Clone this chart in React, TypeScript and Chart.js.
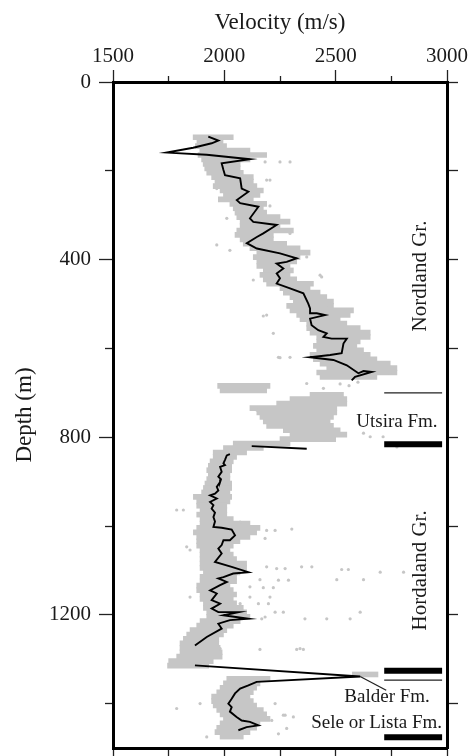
import React, { useEffect, useRef } from 'react';
import { Chart, registerables } from 'chart.js';

Chart.register(...registerables);

// ---------- DATA (velocity in m/s, depth in m) ----------
const velocityTicks = [1500, 2000, 2500, 3000];
const depthTicks = [0, 400, 800, 1200];

// dense grey cloud of measurements: depth bins with left / right velocity edges
const cloudDepths = [
  130, 140, 150, 160, 170, 180, 190, 200, 210, 220, 230, 240, 250, 260, 270, 280, 290, 300,
  310, 320, 330, 340, 350, 360, 370, 380, 390, 400, 410, 420, 430, 440, 450, 460, 470, 480,
  490, 500, 510, 520, 530, 540, 550, 560, 570, 580, 590, 600, 610, 620, 630, 640, 650, 660, 670,
  690, 700, 710, 720, 730, 740, 750, 760, 770, 780, 790, 800, 810, 820, 830, 840,
  850, 860, 870, 880, 890, 900, 910, 920, 930, 940, 950, 960, 970, 980, 990, 1000,
  1010, 1020, 1030, 1040, 1050, 1060, 1070, 1080, 1090, 1100, 1110, 1120, 1130, 1140, 1150,
  1160, 1170, 1180, 1190, 1200, 1210, 1220, 1230, 1240, 1250, 1260, 1270, 1280, 1290, 1300,
  1310, 1320, 1340, 1350, 1360, 1370, 1380, 1390, 1400, 1410, 1420, 1430, 1440, 1450, 1460,
  1470, 1480,
];
const cloudLeft = [
  1860, 1877, 1870, 1890, 1882, 1898, 1905, 1912, 1921, 1943, 1958, 1950, 1981, 1996, 1973, 2025, 2040, 2048,
  2056, 2071, 2071, 2056, 2048, 2071, 2085, 2115, 2146, 2130, 2146, 2146, 2175, 2160, 2175, 2190, 2250, 2265,
  2295, 2310, 2280, 2295, 2325, 2340, 2370, 2370, 2385, 2415, 2415, 2400, 2415, 2385, 2400, 2430, 2460, 2415, 2430,
  1970, 1981, 2385, 2295, 2235, 2115, 2146, 2160, 2175, 2190, 2265, 2295, 2250, 2040, 1996, 1950,
  1950, 1936, 1928, 1921, 1928, 1921, 1913, 1906, 1898, 1861, 1876, 1876, 1891, 1876, 1891, 1891,
  1876, 1861, 1876, 1876, 1876, 1891, 1891, 1891, 1891, 1891, 1906, 1891, 1891, 1876, 1876,
  1891, 1891, 1906, 1906, 1921, 1921, 1891, 1876, 1846, 1831, 1816, 1801, 1801, 1801, 1786,
  1750, 1745, 2575, 2011, 1996, 1981, 1966, 1943, 1943, 1950, 1966, 1981, 1996, 1981, 1966,
  1958, 1981,
];
const cloudRight = [
  2040, 1994, 2010, 2115, 2190, 2115, 2071, 2071, 2085, 2130, 2130, 2146, 2175, 2160, 2130, 2190, 2175, 2190,
  2250, 2295, 2250, 2310, 2220, 2220, 2280, 2340, 2385, 2340, 2325, 2295, 2310, 2295, 2325, 2400, 2385, 2430,
  2460, 2490, 2490, 2580, 2565, 2520, 2550, 2610, 2655, 2655, 2610, 2595, 2625, 2655, 2685, 2745, 2775, 2775, 2685,
  2205, 2190, 2535, 2550, 2550, 2505, 2505, 2490, 2475, 2490, 2520, 2550, 2500, 2295, 2175, 2100,
  2055, 2040, 2033, 2033, 2025, 2025, 2033, 2033, 2025, 2033, 2025, 2011, 2011, 2011, 2040, 2115,
  2160, 2145, 2115, 2070, 2040, 2025, 2040, 2055, 2100, 2100, 2070, 2055, 2055, 2025, 2040,
  2055, 2040, 2055, 2085, 2100, 2115, 2071, 2040, 2011, 1996, 1975, 1975, 1981, 1990, 1990,
  1950, 1930, 2690, 2205, 2160, 2145, 2130, 2115, 2130, 2145, 2175, 2190, 2205, 2160, 2145,
  2115, 2085,
];
// second lobe of the Utsira cloud
const lobeDepths = [700];
const lobeLeft = [2400];
const lobeRight = [2520];

// scattered individual measurements outside the dense cloud [velocity, depth]
const outlierPoints = [
  [2183, 180], [2250, 180], [2295, 180], [2205, 221], [2190, 221], [1966, 240], [2205, 279],
  [2011, 307], [2295, 341], [1966, 367], [2025, 379], [2370, 394], [2430, 435], [2437, 439],
  [2130, 446], [2460, 503], [2190, 525], [2175, 527], [2220, 566], [2243, 620], [2295, 620],
  [2250, 621], [2623, 611], [2745, 656], [2370, 679], [2520, 680], [2560, 684], [2600, 676],
  [2445, 690], [2146, 739], [2625, 791], [2655, 799], [2713, 799], [2775, 822],
  [1786, 964], [1816, 964], [1831, 1047], [1846, 1054], [2071, 991], [2190, 1010], [2228, 1010],
  [2303, 1007], [2183, 1028], [2190, 1092], [2235, 1096], [2273, 1096], [2347, 1092], [2393, 1092],
  [2527, 1098], [2557, 1098], [2700, 1104], [2805, 1104], [2160, 1121], [2243, 1122], [2288, 1122],
  [2505, 1121], [2625, 1121], [2115, 1137], [2175, 1139], [2220, 1139], [2205, 1160], [2153, 1175],
  [2198, 1175], [2071, 1175], [2228, 1194], [2265, 1194], [2362, 1209], [2460, 1209], [2565, 1209],
  [2610, 1194], [2168, 1209], [1846, 1160], [2115, 1160], [2183, 1205], [2160, 1278], [2325, 1278],
  [2355, 1278], [1981, 1276], [2340, 1276], [1786, 1411], [1891, 1400], [2228, 1400], [2265, 1426],
  [2310, 1430], [2243, 1468], [2280, 1456], [1921, 1475], [2213, 1438], [2273, 1426],
];

// smoothed velocity log (black line) [velocity, depth]
const nordlandLine = [
  [1928, 123], [1973, 132], [1943, 138], [1860, 148], [1741, 159], [1921, 164], [2115, 174],
  [1988, 183], [1996, 198], [2003, 210], [2071, 217], [2078, 240], [2108, 247], [2056, 266],
  [2071, 273], [2153, 281], [2115, 307], [2130, 315], [2235, 322], [2175, 341], [2146, 349],
  [2101, 363], [2146, 375], [2250, 386], [2325, 397], [2280, 405], [2235, 409], [2265, 420],
  [2235, 431], [2250, 442], [2235, 454], [2295, 465], [2355, 476], [2377, 499], [2385, 510],
  [2385, 521], [2415, 521], [2452, 525], [2385, 533], [2392, 548], [2422, 559], [2460, 566],
  [2445, 574], [2482, 578], [2550, 578], [2535, 589], [2527, 611], [2475, 615], [2385, 620],
  [2490, 626], [2550, 638], [2602, 656], [2625, 651], [2662, 653], [2587, 664], [2572, 672],
];
const utsiraBaseLine = [[2123, 820], [2370, 826]];
const hordalandLine = [
  [2025, 838], [2011, 841], [2003, 851], [1996, 859], [2003, 863], [1981, 867], [1988, 878],
  [1973, 889], [1985, 895], [1981, 901], [1966, 912], [1973, 920], [1958, 927], [1936, 931],
  [1966, 938], [1936, 946], [1951, 953], [1943, 961], [1958, 970], [1951, 980], [1958, 990],
  [1951, 1002], [1988, 1004], [2033, 1008], [2048, 1021], [2025, 1032], [1996, 1032], [1988, 1043],
  [1973, 1051], [1988, 1062], [1958, 1081], [2033, 1092], [2108, 1104], [2040, 1107], [1996, 1115],
  [1973, 1118], [2011, 1126], [1981, 1133], [1936, 1145], [1966, 1152], [1943, 1167], [1981, 1175],
  [1943, 1186], [1973, 1194], [2063, 1194], [1996, 1201], [2108, 1209], [2025, 1212], [1973, 1220],
  [1988, 1231], [1921, 1250], [1868, 1269],
];
const lowerLine = [
  [1868, 1314], [2610, 1339], [2145, 1351], [2108, 1359], [2071, 1366], [2048, 1377], [2033, 1389],
  [2018, 1400], [2033, 1408], [2025, 1418], [2055, 1430], [2078, 1438], [2115, 1441], [2153, 1449],
  [2100, 1453], [2063, 1460],
];

// formation boundary markers (depths) and their velocity extent
const thinBoundaryDepths = [700, 1347];
const thickBoundaryDepths = [816, 1326, 1476];
const markerVelocities = [2718, 2978];
const balderPointer = [[2610, 1339], [2727, 1370]];

// formation labels: text, velocity, depth
const groupLabels = [
  { text: 'Nordland Gr.', v: 2879, d: 437 },
  { text: 'Hordaland Gr.', v: 2879, d: 1100 },
];
const formationLabels = [
  { text: 'Utsira Fm.', v: 2775, d: 765 },
  { text: 'Balder Fm.', v: 2731, d: 1385 },
  { text: 'Sele or Lista Fm.', v: 2684, d: 1444 },
];

// ---------- STYLE ----------
const FONT = "'Liberation Serif', 'Times New Roman', serif";
const TEXT = '#1a1a1a';
const GREY = '#c6c6c6';

const toXY = (pts: number[][]) => pts.map(([v, d]) => ({ x: v, y: d }));

const labelPlugin = {
  id: 'formationText',
  afterDatasetsDraw(chart: any) {
    const { ctx, scales } = chart;
    const xs = scales.x;
    const ys = scales.y;
    ctx.save();
    ctx.fillStyle = TEXT;
    ctx.textAlign = 'center';
    ctx.textBaseline = 'middle';
    for (const l of groupLabels) {
      ctx.save();
      ctx.translate(xs.getPixelForValue(l.v), ys.getPixelForValue(l.d));
      ctx.rotate(-Math.PI / 2);
      ctx.font = `21px ${FONT}`;
      ctx.fillText(l.text, 0, 0);
      ctx.restore();
    }
    ctx.font = `19px ${FONT}`;
    for (const l of formationLabels) {
      ctx.fillText(l.text, xs.getPixelForValue(l.v), ys.getPixelForValue(l.d));
    }
    ctx.restore();
  },
};

const fixBox = (dim: 'width' | 'height', size: number) => (s: any) => {
  s[dim] = size;
  s.paddingTop = 0;
  s.paddingBottom = 0;
  s.paddingLeft = 0;
  s.paddingRight = 0;
};

export default function App() {
  const ref = useRef<HTMLCanvasElement | null>(null);

  useEffect(() => {
    document.body.style.margin = '0';
    const canvas = ref.current;
    if (!canvas) return;

    const markerSets: any[] = [];
    thinBoundaryDepths.forEach((d) => {
      markerSets.push({
        type: 'line',
        data: markerVelocities.map((v) => ({ x: v, y: d })),
        borderColor: '#222',
        borderWidth: 1.3,
        pointRadius: 0,
        order: 0,
      });
    });
    thickBoundaryDepths.forEach((d) => {
      markerSets.push({
        type: 'line',
        data: markerVelocities.map((v) => ({ x: v, y: d })),
        borderColor: '#000',
        borderWidth: 6,
        borderCapStyle: 'butt',
        pointRadius: 0,
        order: 0,
      });
    });

    const lineStyle = {
      type: 'line',
      borderColor: '#000',
      borderWidth: 1.9,
      pointRadius: 0,
      tension: 0,
      order: 1,
    };

    const minorDash = (every: number, on: number, off: number) => ({
      tickBorderDash: (c: any) => (c.tick && c.tick.value % every !== 0 ? [on, off] : []),
      tickBorderDashOffset: (c: any) => (c.tick && c.tick.value % every !== 0 ? on : 0),
    });

    const chart = new Chart(canvas, {
      type: 'line',
      data: {
        datasets: [
          {
            type: 'bar',
            indexAxis: 'y',
            data: cloudDepths.map((d, i) => ({ x: [cloudLeft[i], cloudRight[i]], y: d })),
            backgroundColor: GREY,
            borderWidth: 0,
            barThickness: 5,
            order: 5,
          } as any,
          {
            type: 'bar',
            indexAxis: 'y',
            data: lobeDepths.map((d, i) => ({ x: [lobeLeft[i], lobeRight[i]], y: d })),
            backgroundColor: GREY,
            borderWidth: 0,
            barThickness: 5,
            order: 5,
          } as any,
          {
            type: 'scatter',
            data: toXY(outlierPoints),
            backgroundColor: GREY,
            borderWidth: 0,
            pointRadius: 1.6,
            order: 4,
          } as any,
          { ...lineStyle, data: toXY(nordlandLine) } as any,
          { ...lineStyle, data: toXY(utsiraBaseLine) } as any,
          { ...lineStyle, data: toXY(hordalandLine) } as any,
          { ...lineStyle, data: toXY(lowerLine) } as any,
          {
            type: 'line',
            data: toXY(balderPointer),
            borderColor: '#222',
            borderWidth: 1.3,
            pointRadius: 0,
            order: 0,
          } as any,
          ...markerSets,
        ],
      },
      options: {
        responsive: false,
        animation: false,
        devicePixelRatio: 1,
        layout: { padding: 0 },
        plugins: { legend: { display: false }, tooltip: { enabled: false } },
        scales: {
          x: {
            type: 'linear',
            position: 'top',
            min: velocityTicks[0],
            max: velocityTicks[velocityTicks.length - 1],
            offset: false,
            beginAtZero: false,
            ticks: {
              stepSize: 250,
              autoSkip: false,
              maxRotation: 0,
              padding: 1,
              color: TEXT,
              font: { family: FONT, size: 21 },
              callback: (v: any) => (velocityTicks.includes(v) ? String(v) : ''),
            },
            grid: {
              drawOnChartArea: false,
              offset: false,
              tickLength: 12,
              tickColor: '#222',
              tickWidth: 1.3,
              ...minorDash(500, 6, 6),
            },
            border: { display: true, color: '#000', width: 3 },
            title: {
              display: true,
              text: 'Velocity (m/s)',
              color: TEXT,
              font: { family: FONT, size: 23, lineHeight: 1.2 },
              padding: { top: 9, bottom: 0 },
            },
            afterFit: fixBox('height', 82),
          },
          y: {
            type: 'linear',
            position: 'left',
            reverse: true,
            min: 0,
            max: 1500,
            offset: false,
            beginAtZero: false,
            ticks: {
              stepSize: 200,
              includeBounds: false,
              autoSkip: false,
              padding: 8,
              color: TEXT,
              font: { family: FONT, size: 21 },
              callback: (v: any) => (depthTicks.includes(v) ? String(v) : ''),
            },
            grid: {
              drawOnChartArea: false,
              offset: false,
              tickLength: 14,
              tickColor: '#222',
              tickWidth: 1.3,
              ...minorDash(400, 8, 6),
            },
            border: { display: true, color: '#000', width: 3 },
            title: {
              display: true,
              text: 'Depth (m)',
              color: TEXT,
              font: { family: FONT, size: 23, lineHeight: 1.2 },
              padding: { top: 11, bottom: 0 },
            },
            afterFit: fixBox('width', 113),
          },
          y2: {
            type: 'linear',
            position: 'right',
            reverse: true,
            min: 0,
            max: 1500,
            offset: false,
            ticks: { stepSize: 200, includeBounds: false, display: false },
            grid: {
              drawOnChartArea: false,
              offset: false,
              tickLength: 11,
              tickColor: '#222',
              tickWidth: 1.3,
            },
            border: { display: true, color: '#000', width: 3 },
            afterFit: fixBox('width', 23),
          },
          x2: {
            type: 'linear',
            position: 'bottom',
            min: 1500,
            max: 3000,
            offset: false,
            ticks: { stepSize: 250, display: false },
            grid: {
              drawOnChartArea: false,
              offset: false,
              tickLength: 8,
              tickColor: '#222',
              tickWidth: 1.3,
            },
            border: { display: true, color: '#000', width: 3 },
            afterFit: fixBox('height', 8),
          },
        },
      } as any,
      plugins: [labelPlugin],
    });

    return () => chart.destroy();
  }, []);

  return <canvas ref={ref} width={470} height={756} style={{ display: 'block' }} />;
}
